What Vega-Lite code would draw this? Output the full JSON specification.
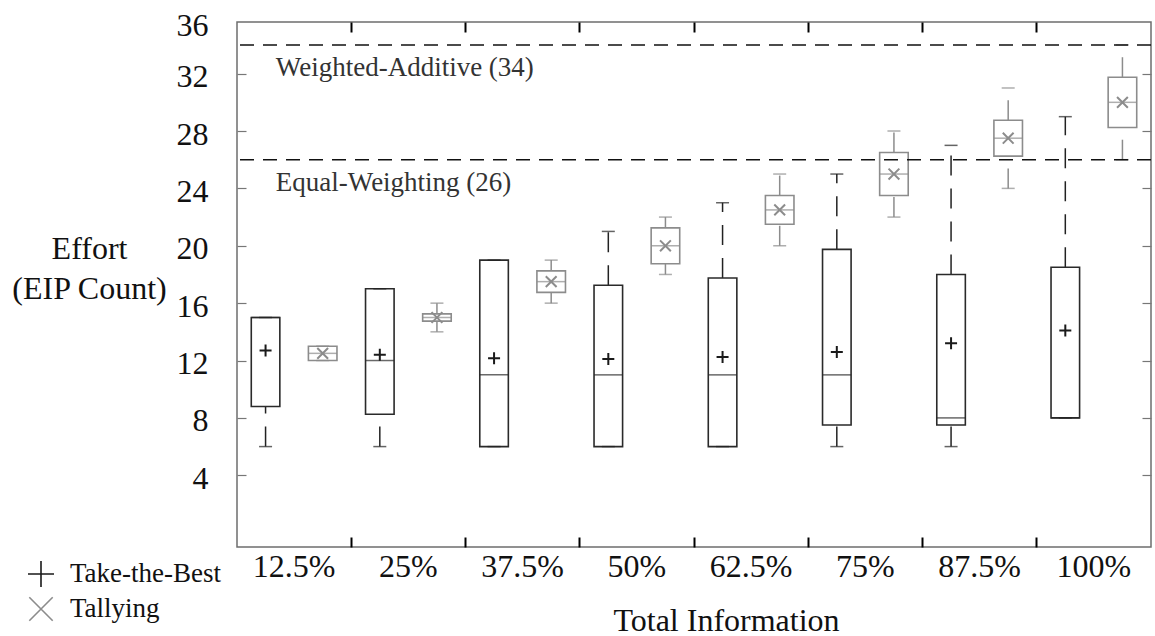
{
  "$schema": "https://vega.github.io/schema/vega-lite/v6.json",
  "width": 914,
  "height": 525,
  "autosize": "none",
  "padding": {"left": 237, "top": 22, "right": 4, "bottom": 89},
  "config": {
    "font": "Liberation Serif",
    "view": {"stroke": "#6e6e6e", "strokeWidth": 1.5},
    "axis": {
      "grid": false,
      "domain": false,
      "labelFont": "Liberation Serif",
      "titleFont": "Liberation Serif",
      "labelColor": "#111111",
      "titleColor": "#111111",
      "titleFontWeight": "normal",
      "labelAngle": 0
    }
  },
  "datasets": {
    "boxes": [
      {"info": "12.5%", "method": "Take-the-Best", "min": 6, "q1": 8.8, "median": 15, "q3": 15, "max": 15, "mean": 12.7},
      {"info": "25%", "method": "Take-the-Best", "min": 6, "q1": 8.25, "median": 12, "q3": 17, "max": 17, "mean": 12.4},
      {"info": "37.5%", "method": "Take-the-Best", "min": 6, "q1": 6, "median": 11, "q3": 19, "max": 19, "mean": 12.15},
      {"info": "50%", "method": "Take-the-Best", "min": 6, "q1": 6, "median": 11, "q3": 17.25, "max": 21, "mean": 12.1},
      {"info": "62.5%", "method": "Take-the-Best", "min": 6, "q1": 6, "median": 11, "q3": 17.75, "max": 23, "mean": 12.25},
      {"info": "75%", "method": "Take-the-Best", "min": 6, "q1": 7.5, "median": 11, "q3": 19.75, "max": 25, "mean": 12.6},
      {"info": "87.5%", "method": "Take-the-Best", "min": 6, "q1": 7.5, "median": 8, "q3": 18, "max": 27, "mean": 13.2},
      {"info": "100%", "method": "Take-the-Best", "min": 8, "q1": 8, "median": 8, "q3": 18.5, "max": 29, "mean": 14.1},
      {"info": "12.5%", "method": "Tallying", "min": 12, "q1": 12, "median": 12.5, "q3": 13, "max": 13, "mean": 12.5},
      {"info": "25%", "method": "Tallying", "min": 14, "q1": 14.75, "median": 15, "q3": 15.25, "max": 16, "mean": 15},
      {"info": "37.5%", "method": "Tallying", "min": 16, "q1": 16.75, "median": 17.5, "q3": 18.25, "max": 19, "mean": 17.5},
      {"info": "50%", "method": "Tallying", "min": 18, "q1": 18.75, "median": 20, "q3": 21.25, "max": 22, "mean": 20},
      {"info": "62.5%", "method": "Tallying", "min": 20, "q1": 21.5, "median": 22.5, "q3": 23.5, "max": 25, "mean": 22.5},
      {"info": "75%", "method": "Tallying", "min": 22, "q1": 23.5, "median": 25, "q3": 26.5, "max": 28, "mean": 25},
      {"info": "87.5%", "method": "Tallying", "min": 24, "q1": 26.25, "median": 27.5, "q3": 28.75, "max": 31, "mean": 27.5},
      {"info": "100%", "method": "Tallying", "min": 26, "q1": 28.25, "median": 30, "q3": 31.75, "max": 34, "mean": 30}
    ],
    "refs": [
      {"label": "Weighted-Additive (34)", "value": 34},
      {"label": "Equal-Weighting (26)", "value": 26}
    ]
  },
  "resolve": {"axis": {"x": "independent", "y": "independent"}},
  "layer": [
    {
      "data": {"name": "boxes"},
      "mark": {"type": "rule", "strokeWidth": 1.5, "strokeDash": [20, 13]},
      "encoding": {
        "x": {
          "field": "info", "type": "nominal",
          "scale": {"domain": ["12.5%", "25%", "37.5%", "50%", "62.5%", "75%", "87.5%", "100%"], "paddingInner": 0, "paddingOuter": 0},
          "axis": {
            "orient": "bottom", "bandPosition": 1, "ticks": true, "tickSize": -10, "tickWidth": 2, "tickColor": "#000000",
            "tickOpacity": {"condition": {"test": "datum.value === '100%'", "value": 0}, "value": 1},
            "labelFontSize": 32, "labelPadding": 14, "labelOverlap": false,
            "title": "Total Information", "titleFontSize": 32, "titleX": 489, "titleY": 83,
            "titleBaseline": "alphabetic", "titleAlign": "center", "titlePadding": 0
          }
        },
        "xOffset": {"field": "method", "type": "nominal", "scale": {"domain": ["Take-the-Best", "Tallying"], "paddingInner": 0.5, "paddingOuter": 0.25}},
        "y": {
          "field": "q3", "type": "quantitative",
          "scale": {"domain": [-1, 35.6], "nice": false, "zero": false},
          "axis": {
            "orient": "left", "values": [4, 8, 12, 16, 20, 24, 28, 32, 35.6],
            "labelExpr": "datum.value > 35 ? '36' : datum.label",
            "tickSize": -9, "tickWidth": 1.2, "tickColor": "#777777",
            "tickOpacity": {"condition": {"test": "datum.value > 35", "value": 0}, "value": 1},
            "labelFontSize": 32, "labelPadding": 38, "labelOffset": 3,
            "title": ["Effort", "(EIP Count)"], "titleAngle": 0, "titleFontSize": 32,
            "titleX": -148, "titleY": 226, "titleAlign": "center", "titleBaseline": "middle", "titleLineHeight": 40
          }
        },
        "y2": {"field": "max"},
        "stroke": {"condition": {"test": "datum.method === 'Tallying'", "value": "#8c8c8c"}, "value": "#222222"}
      }
    },
    {
      "data": {"name": "boxes"},
      "mark": {"type": "rule", "strokeWidth": 1.5, "strokeDash": [20, 13]},
      "encoding": {
        "x": {
          "field": "info", "type": "nominal",
          "scale": {"domain": ["12.5%", "25%", "37.5%", "50%", "62.5%", "75%", "87.5%", "100%"], "paddingInner": 0, "paddingOuter": 0},
          "axis": {
            "orient": "top", "bandPosition": 1, "ticks": true, "tickSize": -10, "tickWidth": 2, "tickColor": "#000000",
            "tickOpacity": {"condition": {"test": "datum.value === '100%'", "value": 0}, "value": 1},
            "labels": false, "title": null
          }
        },
        "xOffset": {"field": "method", "type": "nominal", "scale": {"domain": ["Take-the-Best", "Tallying"], "paddingInner": 0.5, "paddingOuter": 0.25}},
        "y": {
          "field": "min", "type": "quantitative",
          "scale": {"domain": [-1, 35.6], "nice": false, "zero": false},
          "axis": {
            "orient": "right", "values": [4, 8, 12, 16, 20, 24, 28, 32],
            "tickSize": -9, "tickWidth": 1.2, "tickColor": "#777777",
            "labels": false, "title": null
          }
        },
        "y2": {"field": "q1"},
        "stroke": {"condition": {"test": "datum.method === 'Tallying'", "value": "#8c8c8c"}, "value": "#222222"}
      }
    },
    {
      "data": {"name": "boxes"},
      "mark": {"type": "bar", "fill": "white", "fillOpacity": 0, "strokeWidth": 1.6},
      "encoding": {
        "x": {"field": "info", "type": "nominal", "scale": {"domain": ["12.5%", "25%", "37.5%", "50%", "62.5%", "75%", "87.5%", "100%"], "paddingInner": 0, "paddingOuter": 0}, "axis": null},
        "xOffset": {"field": "method", "type": "nominal", "scale": {"domain": ["Take-the-Best", "Tallying"], "paddingInner": 0.5, "paddingOuter": 0.25}},
        "y": {"field": "q1", "type": "quantitative", "scale": {"domain": [-1, 35.6], "nice": false, "zero": false}, "axis": null},
        "y2": {"field": "q3"},
        "stroke": {"condition": {"test": "datum.method === 'Tallying'", "value": "#8c8c8c"}, "value": "#2a2a2a"}
      }
    },
    {
      "data": {"name": "boxes"},
      "mark": {"type": "tick", "size": 28.6, "thickness": 1.5},
      "encoding": {
        "x": {"field": "info", "type": "nominal", "scale": {"domain": ["12.5%", "25%", "37.5%", "50%", "62.5%", "75%", "87.5%", "100%"], "paddingInner": 0, "paddingOuter": 0}, "axis": null},
        "xOffset": {"field": "method", "type": "nominal", "scale": {"domain": ["Take-the-Best", "Tallying"], "paddingInner": 0.5, "paddingOuter": 0.25}},
        "y": {"field": "median", "type": "quantitative", "scale": {"domain": [-1, 35.6], "nice": false, "zero": false}, "axis": null},
        "color": {"condition": {"test": "datum.method === 'Tallying'", "value": "#8c8c8c"}, "value": "#2a2a2a"}
      }
    },
    {
      "data": {"name": "boxes"},
      "mark": {"type": "tick", "size": 13, "thickness": 1.5},
      "encoding": {
        "x": {"field": "info", "type": "nominal", "scale": {"domain": ["12.5%", "25%", "37.5%", "50%", "62.5%", "75%", "87.5%", "100%"], "paddingInner": 0, "paddingOuter": 0}, "axis": null},
        "xOffset": {"field": "method", "type": "nominal", "scale": {"domain": ["Take-the-Best", "Tallying"], "paddingInner": 0.5, "paddingOuter": 0.25}},
        "y": {"field": "max", "type": "quantitative", "scale": {"domain": [-1, 35.6], "nice": false, "zero": false}, "axis": null},
        "color": {"condition": {"test": "datum.method === 'Tallying'", "value": "#8c8c8c"}, "value": "#222222"}
      }
    },
    {
      "data": {"name": "boxes"},
      "mark": {"type": "tick", "size": 13, "thickness": 1.5},
      "encoding": {
        "x": {"field": "info", "type": "nominal", "scale": {"domain": ["12.5%", "25%", "37.5%", "50%", "62.5%", "75%", "87.5%", "100%"], "paddingInner": 0, "paddingOuter": 0}, "axis": null},
        "xOffset": {"field": "method", "type": "nominal", "scale": {"domain": ["Take-the-Best", "Tallying"], "paddingInner": 0.5, "paddingOuter": 0.25}},
        "y": {"field": "min", "type": "quantitative", "scale": {"domain": [-1, 35.6], "nice": false, "zero": false}, "axis": null},
        "color": {"condition": {"test": "datum.method === 'Tallying'", "value": "#8c8c8c"}, "value": "#222222"}
      }
    },
    {
      "data": {"name": "boxes"},
      "mark": {"type": "point", "filled": false, "size": 144, "strokeWidth": 2, "opacity": 1},
      "encoding": {
        "x": {"field": "info", "type": "nominal", "scale": {"domain": ["12.5%", "25%", "37.5%", "50%", "62.5%", "75%", "87.5%", "100%"], "paddingInner": 0, "paddingOuter": 0}, "axis": null},
        "xOffset": {"field": "method", "type": "nominal", "scale": {"domain": ["Take-the-Best", "Tallying"], "paddingInner": 0.5, "paddingOuter": 0.25}},
        "y": {"field": "mean", "type": "quantitative", "scale": {"domain": [-1, 35.6], "nice": false, "zero": false}, "axis": null},
        "shape": {
          "field": "method", "type": "nominal",
          "scale": {"domain": ["Take-the-Best", "Tallying"], "range": ["M-1,0L1,0M0,-1L0,1", "M-0.9,-0.9L0.9,0.9M-0.9,0.9L0.9,-0.9"]},
          "legend": {
            "orient": "none", "legendX": -210, "legendY": 538, "title": null, "padding": 0,
            "symbolSize": 676, "symbolStrokeWidth": 1.6, "labelFont": "Liberation Serif", "labelFontSize": 27,
            "labelColor": "#111111", "labelOffset": 15, "rowPadding": 3
          }
        },
        "color": {
          "field": "method", "type": "nominal",
          "scale": {"domain": ["Take-the-Best", "Tallying"], "range": ["#1a1a1a", "#8c8c8c"]},
          "legend": {
            "orient": "none", "legendX": -210, "legendY": 538, "title": null, "padding": 0,
            "symbolSize": 676, "symbolStrokeWidth": 1.6, "labelFont": "Liberation Serif", "labelFontSize": 27,
            "labelColor": "#111111", "labelOffset": 15, "rowPadding": 3
          }
        }
      }
    },
    {
      "data": {"name": "refs"},
      "mark": {"type": "rule", "stroke": "#111111", "strokeWidth": 1.5, "strokeDash": [14, 9]},
      "encoding": {
        "y": {"field": "value", "type": "quantitative", "scale": {"domain": [-1, 35.6], "nice": false, "zero": false}, "axis": null}
      }
    },
    {
      "data": {"name": "refs"},
      "mark": {"type": "text", "align": "left", "baseline": "alphabetic", "dy": 31, "fontSize": 27, "color": "#333333", "font": "Liberation Serif"},
      "encoding": {
        "x": {"datum": "12.5%", "type": "nominal", "bandPosition": 0.34, "scale": {"domain": ["12.5%", "25%", "37.5%", "50%", "62.5%", "75%", "87.5%", "100%"], "paddingInner": 0, "paddingOuter": 0}, "axis": null},
        "y": {"field": "value", "type": "quantitative", "scale": {"domain": [-1, 35.6], "nice": false, "zero": false}, "axis": null},
        "text": {"field": "label"}
      }
    }
  ]
}
